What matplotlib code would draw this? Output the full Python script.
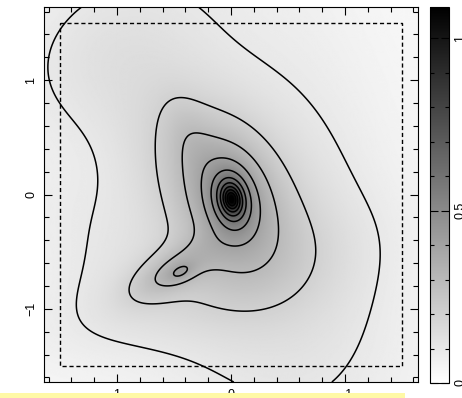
import numpy as np
import matplotlib
matplotlib.use('Agg')
import matplotlib.pyplot as plt
from matplotlib.ticker import MultipleLocator, FixedLocator
from matplotlib.patches import Rectangle

plt.rcParams['font.family'] = ['Liberation Sans', 'DejaVu Sans']

# central cusp (data units)
peak_x, peak_y = -0.005, -0.041
peak_ratio, peak_ang = 0.654, 79.9
peak_amp, peak_core = 0.948, 0.0928

# gaussian lumps shaping the outer contours
lump_x = [0.117, 1.100, 0.542, 0.443, 0.483, -0.418, 1.221, 0.373, -0.850]
lump_y = [0.084, 1.290, -0.683, -0.682, -0.881, -0.966, -0.357, 0.522, 0.466]
lump_a = [0.630, 0.526, 0.284, 0.090, 1.025, 1.150, 0.606, 0.268, 0.449]
lump_b = [0.364, 0.737, 0.128, 0.050, 0.320, 0.715, 0.446, 0.140, 1.667]
lump_ang = [50.5, 57.8, -29.6, -25.9, -16.2, -103.8, 23.3, 68.6, -11.8]
lump_amp = [0.1433, 0.077, 0.1430, 0.087, 0.0640, 0.0583, 0.0394, 0.045, 0.0197]
base_level = 0.0049

levels = [0.1, 0.2, 0.3, 0.4, 0.5, 0.6, 0.7, 0.8, 0.9, 1.0]
box_half = 1.5
lim = 1.64
vmax = 1.09
ticks = [-1, 0, 1]
tick_labels = ['\u22121', '0', '1']
cb_ticks = [0, 0.5, 1]
cb_labels = ['0', '0.5', '1']


def rot(dx, dy, ang):
    t = np.deg2rad(ang)
    return dx*np.cos(t) + dy*np.sin(t), -dx*np.sin(t) + dy*np.cos(t)


g = np.linspace(-lim, lim, 400)
X, Y = np.meshgrid(g, g)
u, v = rot(X - peak_x, Y - peak_y, peak_ang)
Z = base_level + peak_amp/np.sqrt(1 + (u**2 + (v/peak_ratio)**2)/peak_core**2)
for x0, y0, a, b, ang, amp in zip(lump_x, lump_y, lump_a, lump_b, lump_ang, lump_amp):
    u, v = rot(X - x0, Y - y0, ang)
    Z += amp*np.exp(-0.5*((u/a)**2 + (v/b)**2))

fig = plt.figure(figsize=(4.62, 3.98), dpi=100)
ax = fig.add_axes([44/462, 16/398, 374/462, 375/398])
cax = fig.add_axes([430/462, 15/398, 19/462, 376/398])

im = ax.imshow(Z, extent=[-lim, lim, -lim, lim], origin='lower', cmap='gray_r',
               vmin=0, vmax=vmax, aspect='auto', interpolation='bilinear')
ax.contour(X, Y, Z, levels=levels, colors='black', linewidths=1.1)
ax.plot([box_half, -box_half, -box_half, box_half, box_half],
        [box_half, box_half, -box_half, -box_half, box_half],
        color='black', lw=1, ls=(0, (3, 2)))
ax.set_xlim(lim, -lim)
ax.set_ylim(-lim, lim)
ax.xaxis.set_major_locator(FixedLocator(ticks))
ax.yaxis.set_major_locator(FixedLocator(ticks))
ax.xaxis.set_minor_locator(MultipleLocator(0.2))
ax.yaxis.set_minor_locator(MultipleLocator(0.2))
ax.tick_params(which='both', direction='in', top=True, right=True, width=0.8,
               labelsize=9, pad=5)
ax.tick_params(which='major', length=6)
ax.tick_params(which='minor', length=3.5)
ax.set_xticklabels(tick_labels)
ax.set_yticklabels(tick_labels, rotation=90, va='center')

cb = fig.colorbar(im, cax=cax)
cb.outline.set_linewidth(0.8)
cb.set_ticks(cb_ticks)
cb.set_ticklabels(cb_labels)
cax.yaxis.set_minor_locator(MultipleLocator(0.1))
cax.tick_params(which='both', direction='in', left=True, right=True, width=0.8,
                labelsize=9, pad=4)
cax.tick_params(which='major', length=6)
cax.tick_params(which='minor', length=3)
for lab in cax.get_yticklabels():
    lab.set_rotation(90)
    lab.set_va('center')

# pale yellow strip along the bottom edge
fig.patches.append(Rectangle((0, 0), 405/462, 5/398, transform=fig.transFigure,
                             facecolor='#fff9a6', edgecolor='none', zorder=10))

fig.savefig('out.png', dpi=100)
